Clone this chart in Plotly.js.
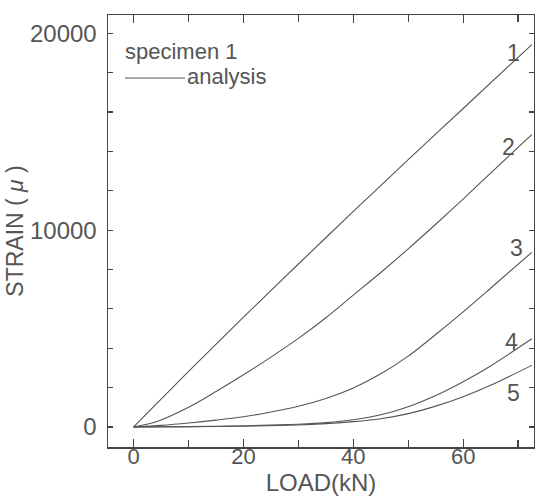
<!DOCTYPE html>
<html><head><meta charset="utf-8">
<script src="https://cdn.plot.ly/plotly-3.0.1.min.js"></script>
<style>html,body{margin:0;padding:0;background:#fff;}#chart{width:535px;height:496px;}</style>
</head><body><div id="chart"></div>
<script>
// LOAD (kN) vs STRAIN (micro)
const load1 = [0, 10, 20, 30, 40, 50, 60, 72.5];
const strain1 = [0, 2820, 5580, 8280, 10950, 13580, 16180, 19430];
const load2 = [0, 4, 10, 15, 20, 25, 30, 35, 40, 45, 50, 55, 60, 65, 72.5];
const strain2 = [0, 250, 1000, 1800, 2650, 3550, 4500, 5550, 6700, 7850, 9050, 10300, 11580, 12900, 14850];
const load3 = [0, 5, 10, 15, 20, 25, 30, 35, 40, 45, 50, 55, 60, 65, 72.5];
const strain3 = [0, 80, 200, 350, 520, 760, 1050, 1450, 1980, 2700, 3600, 4700, 5850, 7050, 8870];
const load4 = [0, 10, 20, 30, 35, 40, 45, 50, 55, 60, 65, 72.5];
const strain4 = [0, 20, 60, 140, 220, 370, 620, 1030, 1600, 2300, 3100, 4480];
const load5 = [0, 10, 20, 30, 35, 40, 45, 50, 55, 60, 65, 72.5];
const strain5 = [0, 15, 40, 100, 170, 270, 420, 680, 1060, 1540, 2120, 3130];
const curveLabels = ['1', '2', '3', '4', '5'];
const legendTitle = 'specimen 1';
const legendEntry = 'analysis';
const xTickVals = [0, 20, 40, 60];
const yTickVals = [0, 10000, 20000];

const lineStyle = {color: '#555', width: 1.1};
const series = [[load1, strain1], [load2, strain2], [load3, strain3], [load4, strain4], [load5, strain5]];
const traces = series.map((s, i) => ({
  x: s[0], y: s[1], type: 'scatter', mode: 'lines', line: Object.assign({shape: 'spline', smoothing: 0.8}, lineStyle),
  name: curveLabels[i], showlegend: false, hoverinfo: 'skip'
}));

const labelPos = [[513, 53], [508, 147], [516, 248], [511, 342], [513, 393]];
const W = 535, H = 496, L = 108, R = 1, T = 15, B = 49.3;
const pw = W - L - R, ph = H - T - B;
const px = x => (x - L) / pw, py = y => 1 - (y - T) / ph;
const font = {family: 'Liberation Sans, Arial, sans-serif', color: '#555', size: 23};
const bigFont = Object.assign({}, font, {size: 24});
const legFont = Object.assign({}, font, {size: 22});

const annotations = curveLabels.map((t, i) => ({
  text: t, xref: 'paper', yref: 'paper', x: px(labelPos[i][0]), y: py(labelPos[i][1]),
  showarrow: false, xanchor: 'center', yanchor: 'middle', font: font
}));
annotations.push({text: legendTitle, xref: 'paper', yref: 'paper', x: px(123), y: py(51), xanchor: 'left', yanchor: 'middle', showarrow: false, font: legFont});
annotations.push({text: legendEntry, xref: 'paper', yref: 'paper', x: px(185), y: py(76), xanchor: 'left', yanchor: 'middle', showarrow: false, font: legFont});

const layout = {
  width: W, height: H, margin: {l: L, r: R, t: T, b: B},
  paper_bgcolor: '#fff', plot_bgcolor: '#fff', font: font, showlegend: false,
  xaxis: {
    range: [-4.67, 72.9], tickvals: xTickVals, ticks: 'inside', ticklen: 8, tickwidth: 1.2, tickcolor: '#444',
    minor: {dtick: 10, tick0: 0, ticks: 'inside', ticklen: 7, tickwidth: 1.2, tickcolor: '#444', showgrid: false},
    showline: true, linecolor: '#444', linewidth: 1.5, mirror: 'ticks', showgrid: false, zeroline: false,
    tickfont: Object.assign({}, font, {size: 22}), ticklabelstandoff: -11,
    title: {text: 'LOAD(kN)', font: bigFont, standoff: 2}
  },
  yaxis: {
    range: [-1017, 20930], tickvals: yTickVals, tickformat: 'd', ticks: 'inside', ticklen: 5, tickwidth: 1.2, tickcolor: '#444',
    minor: {dtick: 2000, tick0: 0, ticks: 'inside', ticklen: 5, tickwidth: 1.2, tickcolor: '#444', showgrid: false},
    showline: true, linecolor: '#444', linewidth: 1.5, mirror: 'ticks', showgrid: false, zeroline: false,
    tickfont: bigFont, ticklabelstandoff: 5,
    title: {text: 'STRAIN ( <i>μ</i> )', font: font, standoff: 0}
  },
  annotations: annotations,
  shapes: [{type: 'line', xref: 'paper', yref: 'paper', x0: px(125), x1: px(185), y0: py(78), y1: py(78), line: {color: '#555', width: 1}}]
};
Plotly.newPlot('chart', traces, layout, {staticPlot: true, displayModeBar: false});
</script></body></html>
